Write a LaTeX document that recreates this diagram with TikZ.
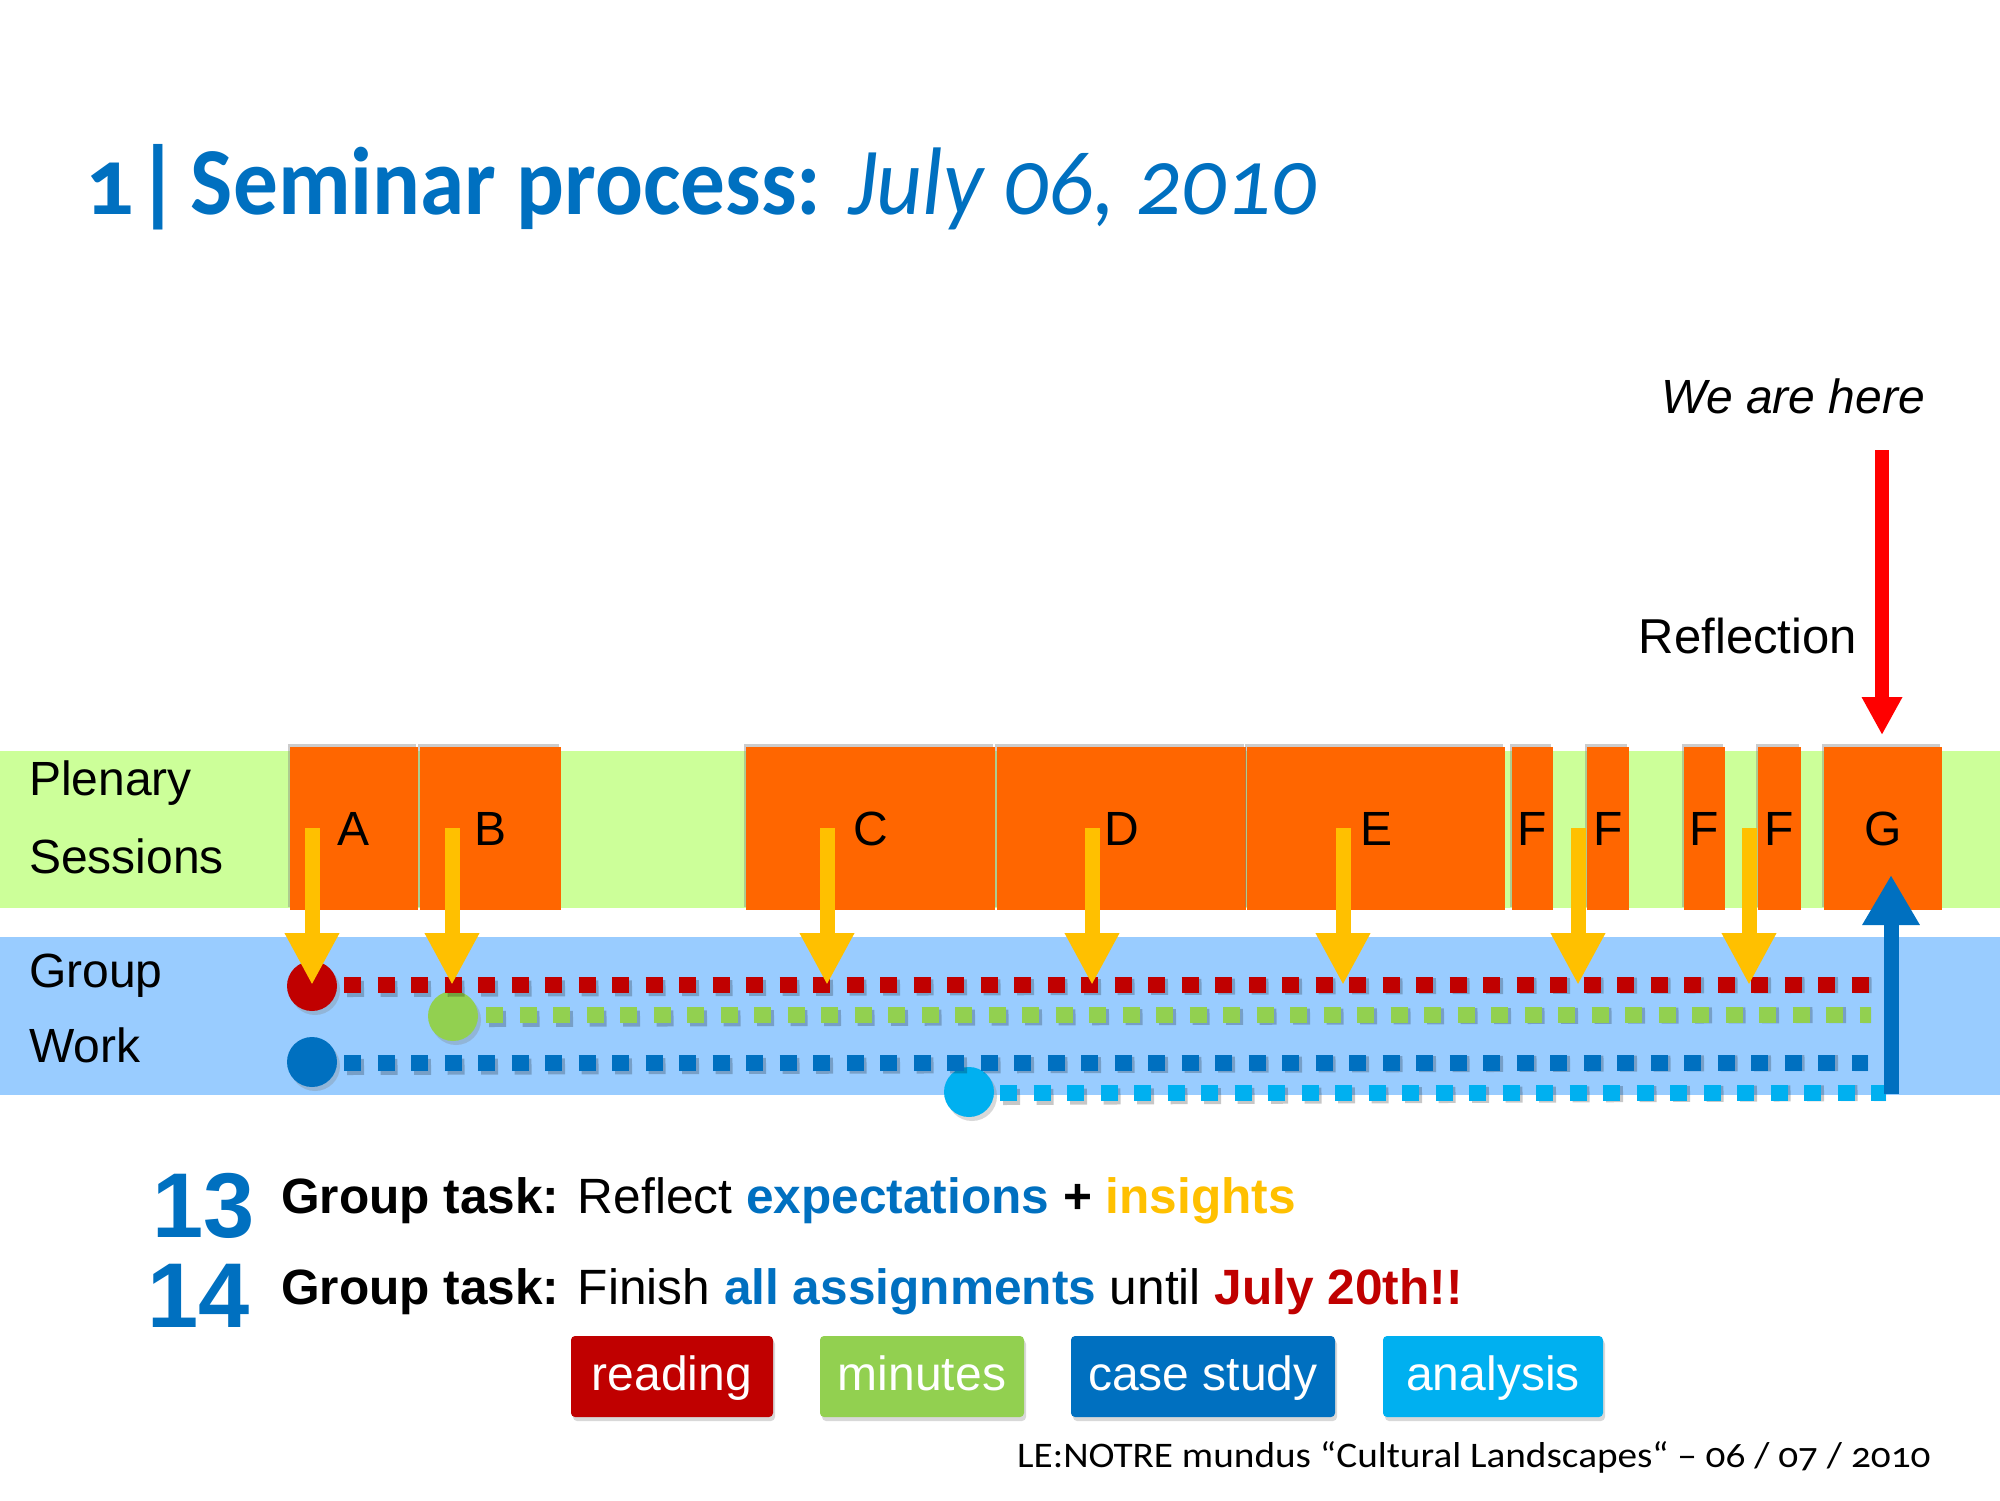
\documentclass[tikz,border=0pt]{standalone}
\usepackage{graphicx}
\usepackage{fontspec}
\setmainfont{Liberation Sans}
\newfontfamily\titlefont[Numbers=OldStyle]{Carlito}
\usetikzlibrary{arrows.meta,shadows}
\definecolor{tblue}{HTML}{0070C0}
\definecolor{tred}{HTML}{C00000}
\definecolor{tgreen}{HTML}{92D050}
\definecolor{tlblue}{HTML}{00B0F0}
\definecolor{tyellow}{HTML}{FFC000}
\definecolor{torange}{HTML}{FF6600}
\definecolor{bandgreen}{HTML}{CCFF99}
\definecolor{bandblue}{HTML}{99CCFF}
\newcommand\myfs[1]{\fontsize{#1}{#1}\selectfont}
\tikzset{
  sess/.style={rectangle, fill=torange, inner sep=0pt, minimum height=163pt,
    font=\myfs{48}, drop shadow={shadow xshift=-2pt, shadow yshift=3pt, opacity=.4}},
  dotc/.style={circle, fill=#1, inner sep=0pt, minimum size=50pt,
    drop shadow={shadow xshift=3pt, shadow yshift=-4pt, opacity=.3}},
  dotline/.style={draw=#1, line width=16pt, dash pattern=on 17pt off 16.5pt},
  dotshadow/.style={draw=black, opacity=.22, line width=16pt, dash pattern=on 17pt off 16.5pt},
  yarrow/.style={draw=tyellow, line width=15pt, -{Triangle[width=51pt,length=52pt]}},
  legend/.style={rectangle, rounded corners=4pt, fill=#1, text=white, inner sep=0pt,
    minimum height=81pt, font=\myfs{48}, text height=36pt, text depth=8pt,
    drop shadow={shadow xshift=2pt, shadow yshift=-4pt, opacity=.3}},
  lbl/.style={anchor=base west, inner sep=0pt, font=\myfs{48}},
}
\begin{document}
\begin{tikzpicture}[x=1pt,y=-1pt]
\useasboundingbox (0,0) rectangle (2000,1500);
\fill[white] (0,0) rectangle (2000,1500);
% title
\node[anchor=base west, inner sep=0pt, text=tblue, font=\titlefont\myfs{96}] (title) at (85,214)
  {\bfseries 1\hspace{0.02em}|\hspace{0.1em}\scalebox{0.93}[1]{Seminar process: \mdseries\itshape July 06, 2010}};
% bands
\fill[bandgreen] (0,751) rectangle (2000,908);
\fill[bandblue] (0,937) rectangle (2000,1095);
\node[lbl] (plen) at (29,795) {Plenary};
\node[lbl] (sessl) at (29,873) {Sessions};
\node[lbl] (grp) at (29,987) {Group};
\node[lbl] (wrk) at (29,1062) {Work};
% session boxes
\node[sess, minimum width=128pt] (A) at (354,828.5) {A};
\node[sess, minimum width=141pt] (B) at (490.5,828.5) {B};
\node[sess, minimum width=249pt] (C) at (870.5,828.5) {C};
\node[sess, minimum width=249pt] (D) at (1121.5,828.5) {D};
\node[sess, minimum width=258pt] (E) at (1376,828.5) {E};
\node[sess, minimum width=41pt] (F1) at (1532.5,828.5) {F};
\node[sess, minimum width=42pt] (F2) at (1608,828.5) {F};
\node[sess, minimum width=41pt] (F3) at (1704.5,828.5) {F};
\node[sess, minimum width=43pt] (F4) at (1779.5,828.5) {F};
\node[sess, minimum width=118pt] (G) at (1883,828.5) {G};
% dotted lines with shadows
\coordinate (rend) at (1881,985);
\coordinate (gend) at (1871,1015);
\coordinate (bend) at (1868,1063);
\coordinate (lend) at (1886,1093);
\node[dotc=tred] (r0) at (312,986) {};
\node[dotc=tgreen] (g0) at (453,1016) {};
\node[dotc=tblue] (b0) at (312,1062) {};
\node[dotc=tlblue] (l0) at (969,1092) {};
\begin{scope}[xshift=3pt, yshift=-4pt]
\draw[dotshadow] (344,985) -- (rend);
\draw[dotshadow] (486,1015) -- (gend);
\draw[dotshadow] (344,1063) -- (bend);
\draw[dotshadow] (1000,1093) -- (lend);
\end{scope}
\draw[dotline=tred] ([xshift=7pt]r0.east |- rend) -- (rend);
\draw[dotline=tgreen] ([xshift=8pt]g0.east |- gend) -- (gend);
\draw[dotline=tblue] ([xshift=7pt]b0.east |- bend) -- (bend);
\draw[dotline=tlblue] ([xshift=6pt]l0.east |- lend) -- (lend);
% yellow arrows
\foreach \x/\n in {312/a, 452/b, 827/c, 1092/d, 1343/e, 1578/f, 1749/g}{
  \coordinate (ys\n) at (\x,828);
  \coordinate (ye\n) at (\x,985);
  \draw[yarrow] (ys\n) -- (ye\n);
}
% blue arrow up
\coordinate (bu0) at (1891,1094);
\coordinate (bu1) at (1891,875);
\draw[draw=tblue, line width=15pt, -{Triangle[width=54pt,length=50pt]}] (bu0) -- (bu1);
% red arrow
\node[anchor=base east, inner sep=0pt, font=\myfs{48}\itshape] (here) at (1925,413) {We are here};
\node[anchor=base east, inner sep=0pt, font=\myfs{49}] (refl) at (1857,653) {Reflection};
\coordinate (ra0) at (1882,450);
\coordinate (ra1) at (1882,735);
\draw[draw=red, line width=14pt, -{Triangle[width=38pt,length=38pt]}] (ra0) -- (ra1);
% tasks
\node[anchor=base west, inner sep=0pt, text=tblue, font=\myfs{92}\bfseries] (n13) at (152,1237) {13};
\node[anchor=base west, inner sep=0pt, text=tblue, font=\myfs{92}\bfseries] (n14) at (147,1327) {14};
\node[anchor=base west, inner sep=0pt, font=\myfs{49.6}] (t13) at (281,1213)
  {\textbf{Group task:} Reflect \textcolor{tblue}{\textbf{expectations}} \textbf{+} \textcolor{tyellow}{\textbf{insights}}};
\node[anchor=base west, inner sep=0pt, font=\myfs{49.6}] (t14) at (281,1304)
  {\textbf{Group task:} Finish \textcolor{tblue}{\textbf{all assignments}} until \textcolor{tred}{\textbf{July 20th!!}}};
% legend
\node[legend=tred, minimum width=202pt] (lr) at (672,1376.5) {reading};
\node[legend=tgreen, minimum width=204pt] (lm) at (922,1376.5) {minutes};
\node[legend=tblue, minimum width=264pt] (lc) at (1203,1376.5) {case study};
\node[legend=tlblue, minimum width=220pt] (la) at (1493,1376.5) {analysis};
% footer
\node[anchor=base east, inner sep=0pt, font=\titlefont\myfs{36}] (foot) at (1931,1467)
  {\scalebox{1.09}[1]{LE:NOTRE mundus “Cultural Landscapes“ – 06 / 07 / 2010}};
\end{tikzpicture}
\end{document}
